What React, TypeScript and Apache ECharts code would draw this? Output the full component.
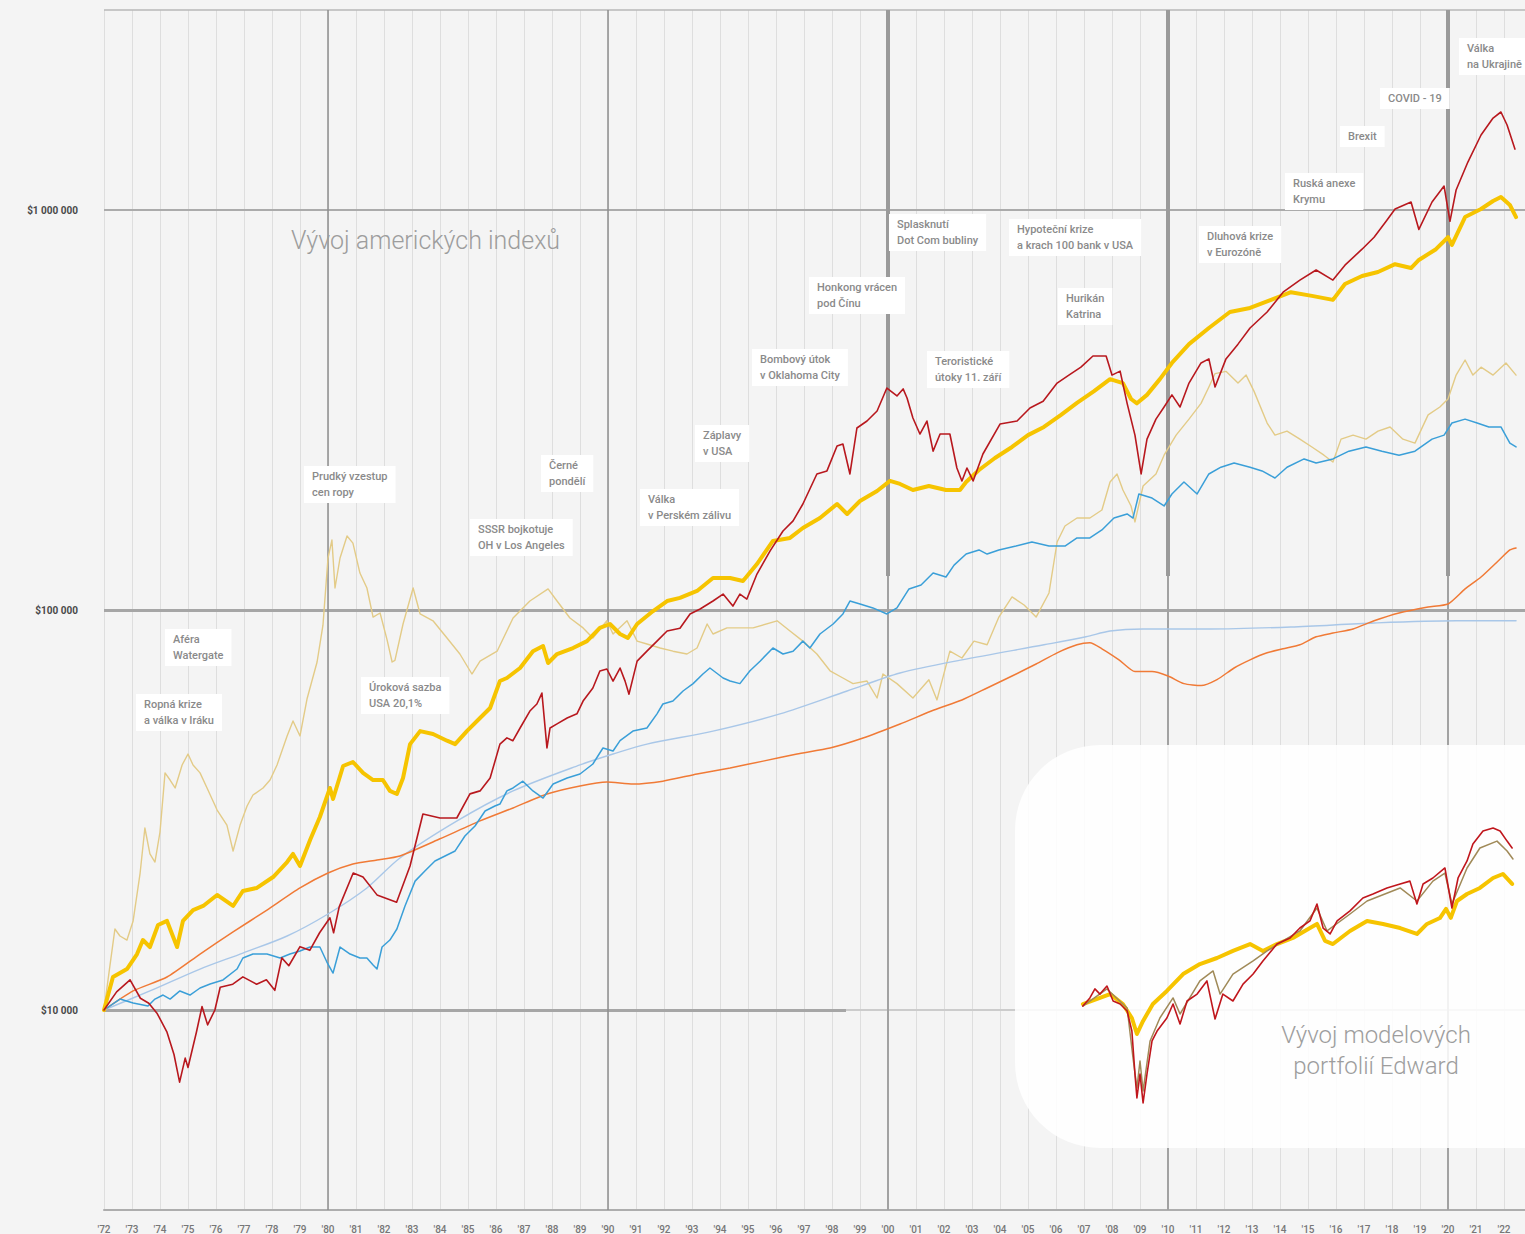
import React, { useEffect, useRef } from "react";
import * as echarts from "echarts";

// ---------- DATA (decimal year, value in USD) ----------
const usStocks: [number, number][] = [
  [1972.0,10000],[1972.45,11100],[1972.93,11900],[1973.3,10700],[1973.6,10400],[1973.9,9800],[1974.25,8800],[1974.5,7740],[1974.7,6600],[1974.9,7580],[1975.0,7180],[1975.3,8800],[1975.5,10200],[1975.7,9180],[1975.96,10000],[1976.15,11400],[1976.6,11600],[1976.96,12100],[1977.45,11600],[1977.8,11900],[1978.1,11200],[1978.35,13500],[1978.6,12900],[1979.0,14400],[1979.35,14100],[1979.7,15600],[1980.07,17000],[1980.2,15600],[1980.4,18100],[1980.9,22000],[1981.25,21500],[1981.75,19400],[1982.45,18600],[1982.93,22900],[1983.39,30900],[1984.0,30200],[1984.6,30200],[1985.07,34700],[1985.43,35300],[1985.79,38000],[1986.14,46200],[1986.39,47900],[1986.6,47100],[1986.86,50700],[1987.21,55900],[1987.46,58200],[1987.64,62000],[1987.82,45200],[1987.93,50700],[1988.18,51900],[1988.54,53700],[1988.89,55000],[1989.11,59200],[1989.46,63800],[1989.71,70400],[1989.96,71200],[1990.18,66400],[1990.43,71600],[1990.61,66400],[1990.75,61600],[1991.04,74500],[1991.39,78900],[1991.75,83600],[1992.11,88600],[1992.57,90000],[1992.93,97700],[1993.29,100600],[1993.75,105300],[1994.11,109600],[1994.46,102300],[1994.71,109600],[1994.96,106500],[1995.32,123000],[1995.79,140500],[1996.25,157600],[1996.61,167000],[1996.96,184100],[1997.46,218800],[1997.82,222700],[1998.18,257000],[1998.39,260000],[1998.64,218800],[1998.89,285100],[1999.25,296800],[1999.61,314500],[1999.96,358900],[2000.32,342800],[2000.54,357000],[2000.68,338800],[2000.89,302000],[2001.14,275400],[2001.39,296800],[2001.61,249500],[2001.86,275400],[2002.21,275400],[2002.46,226500],[2002.64,210200],[2002.82,226500],[2003.04,210200],[2003.39,245500],[2004.0,291700],[2004.61,296800],[2005.07,320000],[2005.54,332400],[2006.04,369300],[2006.46,386600],[2006.89,404600],[2007.32,431500],[2007.79,431500],[2008.0,386600],[2008.29,395600],[2008.54,328600],[2008.82,273600],[2009.04,218800],[2009.25,267400],[2009.57,300000],[2009.86,321800],[2010.14,345000],[2010.43,321800],[2010.75,369300],[2011.18,414600],[2011.46,424400],[2011.68,361000],[2012.07,424400],[2012.5,462000],[2012.93,507000],[2013.54,556000],[2014.11,623000],[2014.71,668000],[2015.29,708000],[2015.89,668000],[2016.32,728000],[2016.93,798000],[2017.36,855000],[2017.79,937000],[2018.11,1006000],[2018.68,1047000],[2018.96,894000],[2019.43,1047000],[2019.86,1148000],[2020.07,937000],[2020.29,1122000],[2020.71,1318000],[2021.18,1540000],[2021.61,1698000],[2021.89,1758000],[2022.11,1631000],[2022.39,1420000],
];

const usMixed: [number, number][] = [
  [1972.0,10000],[1972.32,12090],[1972.82,12660],[1973.18,13800],[1973.39,14960],[1973.64,14370],[1973.93,16310],[1974.25,16700],[1974.61,14370],[1974.82,16700],[1975.18,17780],[1975.54,18200],[1976.04,19390],[1976.61,18200],[1976.96,19840],[1977.46,20190],[1978.04,21500],[1978.54,23440],[1978.75,24550],[1979.0,22910],[1979.36,26600],[1979.71,30370],[1980.07,35900],[1980.18,33690],[1980.54,40740],[1980.89,41690],[1981.25,39150],[1981.61,37580],[1981.96,37580],[1982.21,35300],[1982.46,34670],[1982.68,38020],[1982.93,46200],[1983.29,49800],[1983.75,48980],[1984.25,47130],[1984.54,46200],[1984.96,49800],[1985.43,53700],[1985.79,56880],[1986.14,66440],[1986.39,67610],[1986.86,71610],[1987.32,78890],[1987.68,81280],[1987.86,73700],[1988.18,77620],[1988.75,80350],[1989.25,83600],[1989.71,90200],[1990.07,92260],[1990.43,87100],[1990.71,85110],[1991.04,92260],[1991.61,99400],[1992.11,105300],[1992.57,107200],[1993.18,111600],[1993.75,120200],[1994.36,120200],[1994.82,118200],[1995.32,130300],[1995.89,148800],[1996.5,151400],[1996.96,160300],[1997.57,169800],[1998.18,184100],[1998.54,173800],[1999.0,187300],[1999.61,198400],[2000.07,210200],[2000.43,206600],[2000.89,199500],[2001.46,204200],[2002.07,199500],[2002.57,199500],[2002.79,208900],[2003.25,223900],[2003.82,239900],[2004.43,255600],[2005.0,273600],[2005.57,286800],[2006.18,307400],[2006.75,329400],[2007.36,352500],[2007.93,377700],[2008.39,369300],[2008.68,336900],[2008.89,328600],[2009.25,345000],[2009.71,377700],[2010.14,414600],[2010.75,462000],[2011.46,507000],[2012.21,556000],[2012.93,569000],[2013.68,596000],[2014.39,623000],[2015.14,610000],[2015.89,596000],[2016.32,653000],[2016.93,684000],[2017.5,700000],[2018.11,732000],[2018.68,716000],[2018.96,750000],[2019.57,798000],[2020.0,855000],[2020.14,818000],[2020.61,960000],[2021.18,1006000],[2021.61,1053000],[2021.89,1078000],[2022.21,1029000],[2022.43,960000],
];

const gold: [number, number][] = [
  [1972.0,10000],[1972.21,12880],[1972.39,15940],[1972.57,15310],[1972.82,14960],[1973.04,16700],[1973.29,22000],[1973.46,28510],[1973.64,24550],[1973.82,23440],[1974.0,27860],[1974.18,39150],[1974.36,37580],[1974.54,35900],[1974.79,40980],[1975.0,43650],[1975.18,40980],[1975.43,39150],[1975.68,35900],[1976.04,31620],[1976.39,28990],[1976.61,24980],[1976.86,28990],[1977.11,32360],[1977.32,34470],[1977.68,35900],[1977.93,37580],[1978.18,40980],[1978.54,48420],[1978.75,52790],[1979.0,48420],[1979.25,59900],[1979.61,74130],[1979.82,91620],[1980.0,134900],[1980.14,149600],[1980.25,113500],[1980.43,134900],[1980.68,153100],[1980.89,147000],[1981.14,123700],[1981.39,113500],[1981.61,96000],[1981.86,98300],[1982.11,84200],[1982.29,74130],[1982.39,74800],[1982.68,92260],[1983.04,113500],[1983.29,97740],[1983.75,93970],[1984.25,85110],[1984.71,77620],[1985.14,69180],[1985.43,74470],[1986.04,78890],[1986.61,95500],[1987.21,105300],[1987.86,112900],[1988.18,105300],[1988.64,95500],[1989.11,90200],[1989.46,85110],[1989.96,93970],[1990.18,87100],[1990.68,93970],[1991.04,83600],[1991.39,82220],[1991.86,80350],[1992.32,78890],[1992.82,77620],[1993.18,80350],[1993.54,92260],[1993.75,87100],[1994.25,90200],[1994.71,90200],[1995.18,90200],[1996.04,93970],[1996.5,88610],[1996.96,83600],[1997.46,77620],[1997.93,70470],[1998.39,67610],[1998.75,65460],[1999.25,66440],[1999.61,60260],[1999.82,69180],[2000.32,65460],[2000.89,60260],[2001.46,66900],[2001.75,59600],[2002.21,78890],[2002.64,75860],[2003.07,83600],[2003.54,81850],[2003.96,96000],[2004.43,107800],[2004.86,102900],[2005.29,96000],[2005.75,110300],[2006.04,147900],[2006.32,162200],[2006.75,169800],[2007.21,169800],[2007.64,177800],[2007.93,208900],[2008.18,218800],[2008.39,199500],[2008.68,182000],[2008.82,166000],[2009.11,204200],[2009.57,218800],[2009.86,243800],[2010.29,273600],[2010.75,300000],[2011.18,328600],[2011.46,361000],[2011.68,390000],[2012.07,395000],[2012.5,369300],[2012.79,386600],[2013.07,352500],[2013.54,293400],[2013.82,273600],[2014.25,280000],[2014.71,267400],[2015.14,255600],[2015.57,243800],[2015.89,234400],[2016.18,267400],[2016.61,273600],[2017.07,267400],[2017.5,280000],[2017.93,286800],[2018.39,267400],[2018.82,261300],[2019.29,307400],[2019.71,321800],[2020.0,336900],[2020.29,386600],[2020.61,421700],[2020.89,386600],[2021.18,404600],[2021.61,386600],[2022.07,414600],[2022.43,386600],
];

const worldStocks: [number, number][] = [
  [1972.0,10000],[1972.57,10650],[1973.04,10410],[1973.57,10230],[1973.82,10650],[1974.11,10900],[1974.36,10650],[1974.71,11160],[1975.07,10900],[1975.43,11350],[1975.79,11610],[1976.25,11890],[1976.75,12660],[1976.96,13490],[1977.32,13800],[1977.82,13800],[1978.29,13490],[1978.64,13800],[1979.0,14050],[1979.36,14370],[1979.71,14370],[1979.96,13180],[1980.18,12370],[1980.43,14370],[1980.79,13800],[1981.14,13490],[1981.39,13490],[1981.61,12960],[1981.75,12660],[1981.93,14370],[1982.21,14960],[1982.46,15940],[1982.75,18200],[1983.11,21000],[1983.46,22260],[1983.82,23580],[1984.18,24270],[1984.54,24980],[1984.89,27230],[1985.25,28840],[1985.61,31440],[1985.96,32360],[1986.14,32730],[1986.39,35290],[1986.61,35900],[1986.96,37330],[1987.32,35290],[1987.68,33880],[1988.04,36730],[1988.54,38020],[1989.0,38900],[1989.46,41210],[1989.82,45190],[1990.18,44420],[1990.43,47130],[1990.89,49810],[1991.39,50710],[1991.75,55000],[1991.96,58210],[1992.32,59230],[1992.68,62730],[1993.04,65460],[1993.39,69180],[1993.64,71610],[1994.11,67610],[1994.36,66440],[1994.71,65460],[1995.07,70470],[1995.43,74470],[1995.89,80350],[1996.25,77620],[1996.61,78890],[1996.96,83600],[1997.21,80350],[1997.57,87100],[1998.04,92260],[1998.39,97740],[1998.64,105300],[1999.0,103500],[1999.46,101200],[1999.96,97740],[2000.32,101200],[2000.75,112900],[2001.18,115500],[2001.61,123700],[2002.07,120900],[2002.36,129500],[2002.79,138000],[2003.25,141300],[2003.54,138000],[2003.96,141300],[2004.57,144500],[2005.14,147900],[2005.75,144500],[2006.32,144500],[2006.75,151400],[2007.21,151400],[2007.64,158500],[2008.07,169800],[2008.54,173800],[2008.75,169800],[2008.96,195000],[2009.43,190500],[2009.86,182000],[2010.14,195000],[2010.57,208900],[2011.04,195000],[2011.46,218800],[2011.89,227500],[2012.36,233000],[2012.93,227500],[2013.36,222700],[2013.82,213800],[2014.25,227500],[2014.86,238600],[2015.29,233000],[2015.89,238600],[2016.46,249500],[2017.07,255600],[2017.64,249500],[2018.25,243800],[2018.82,249500],[2019.43,267400],[2019.86,273600],[2020.14,293400],[2020.61,300000],[2021.04,293400],[2021.46,286800],[2021.89,286800],[2022.21,261300],[2022.43,255600],
];

const treasuryBills: [number, number][] = [
  [1972.0,10000],[1973.64,11160],[1975.43,12660],[1976.96,13880],[1978.54,15310],[1980.0,17380],[1981.39,20190],[1982.57,23990],[1984.61,29700],[1986.61,35290],[1989.0,41000],[1990.18,43650],[1991.39,46210],[1993.75,49810],[1996.14,55000],[1998.54,62730],[2000.43,69580],[2002.64,75060],[2005.57,81850],[2007.07,85700],[2007.93,88610],[2009.11,89650],[2011.46,89650],[2014.39,90680],[2017.36,92790],[2020.29,93970],[2022.43,93970],
];

const usBonds: [number, number][] = [
  [1972.0,10000],[1973.04,11160],[1974.25,12090],[1975.43,13800],[1976.61,15670],[1977.82,17780],[1979.0,20190],[1980.0,22000],[1980.89,23170],[1981.75,23710],[1982.57,24270],[1984.0,26790],[1985.43,29700],[1986.61,32000],[1987.82,34670],[1989.0,36310],[1989.96,37150],[1990.89,36730],[1991.96,37330],[1993.18,38900],[1994.36,40270],[1995.54,41900],[1996.75,43650],[1997.93,45190],[1999.11,47860],[2000.43,51880],[2001.64,56230],[2002.64,59570],[2003.54,63830],[2004.43,68390],[2005.29,73280],[2006.04,78160],[2006.75,81850],[2007.21,82790],[2007.64,79980],[2008.25,75060],[2008.82,70150],[2009.43,70150],[2010.0,68390],[2010.57,65460],[2011.18,64730],[2011.75,66990],[2012.36,71610],[2012.93,75060],[2013.54,78160],[2014.11,79980],[2014.71,81850],[2015.29,85700],[2015.89,87580],[2016.61,89650],[2017.36,93970],[2018.25,98290],[2019.29,101700],[2020.0,103500],[2020.61,112900],[2021.18,120900],[2021.79,132600],[2022.21,141300],[2022.43,142900],
];

const edwardDynamic: [number, number][] = [
  [2006.96,10230],[2007.21,10720],[2007.39,11290],[2007.57,10960],[2007.82,11480],[2008.04,10530],[2008.29,10350],[2008.54,9940],[2008.71,8860],[2008.82,6918],[2008.89,6026],[2009.0,6918],[2009.11,5860],[2009.25,6918],[2009.43,8367],[2009.61,8860],[2009.96,9550],[2010.18,10350],[2010.43,9226],[2010.68,10530],[2011.04,10960],[2011.39,11820],[2011.68,9495],[2011.96,10960],[2012.32,10530],[2012.68,11610],[2013.04,12300],[2013.39,13260],[2013.89,14620],[2014.36,15140],[2014.71,16030],[2015.07,16700],[2015.32,18410],[2015.54,16030],[2015.79,15490],[2016.04,16700],[2016.5,17690],[2016.96,19050],[2017.32,19500],[2017.82,20190],[2018.29,20660],[2018.64,21000],[2018.89,18410],[2019.11,20660],[2019.46,21380],[2019.89,22650],[2020.14,17990],[2020.36,21380],[2020.68,23580],[2020.89,26000],[2021.25,28020],[2021.61,28510],[2021.86,28020],[2022.11,26440],[2022.29,25410],
];

const edwardBalanced: [number, number][] = [
  [2006.96,10230],[2007.82,11290],[2008.54,10120],[2008.75,7586],[2008.89,6383],[2009.0,7454],[2009.11,6273],[2009.36,8367],[2009.71,9550],[2010.18,10720],[2010.43,9772],[2011.14,11820],[2011.61,12520],[2011.86,10960],[2012.32,12300],[2013.04,13260],[2013.54,14050],[2014.11,14880],[2014.71,15760],[2015.32,17990],[2015.68,15760],[2016.5,17380],[2017.11,18730],[2018.29,20190],[2018.89,18730],[2019.46,21000],[2019.89,22000],[2020.14,18410],[2020.68,22650],[2021.14,25410],[2021.75,26440],[2022.11,24980],[2022.32,23860],
];

const edwardConservative: [number, number][] = [
  [2006.96,10350],[2007.57,10720],[2007.93,10960],[2008.39,10350],[2008.71,9550],[2008.89,8710],[2009.11,9388],[2009.46,10350],[2009.96,11160],[2010.54,12300],[2011.14,13030],[2011.75,13490],[2012.32,14050],[2012.93,14620],[2013.39,14050],[2013.89,14620],[2014.46,15140],[2015.07,16030],[2015.32,16410],[2015.61,14880],[2015.89,14620],[2016.5,15760],[2017.11,16700],[2017.68,16410],[2018.29,16030],[2018.89,15490],[2019.25,16410],[2019.71,16980],[2019.93,17900],[2020.1,17000],[2020.32,18730],[2020.68,19500],[2021.14,20190],[2021.61,21380],[2021.96,21880],[2022.29,20660],
];

const dollarLevels = [10000, 100000, 1000000];
const decadeYears = [1980, 1990, 2000, 2010, 2020];

const eventLabels = [
  "Aféra\nWatergate",
  "Ropná krize\na válka v Iráku",
  "Prudký vzestup\ncen ropy",
  "Úroková sazba\nUSA 20,1%",
  "SSSR bojkotuje\nOH v Los Angeles",
  "Černé\npondělí",
  "Válka\nv Perském zálivu",
  "Záplavy\nv USA",
  "Bombový útok\nv Oklahoma City",
  "Honkong vrácen\npod Čínu",
  "Teroristické\nútoky 11. září",
  "Splasknutí\nDot Com bubliny",
  "Hypoteční krize\na krach 100 bank v USA",
  "Hurikán\nKatrina",
  "Dluhová krize\nv Eurozóně",
  "Ruská anexe\nKrymu",
  "Brexit",
  "COVID - 19",
  "Válka\nna Ukrajině",
];
// box top-left positions (layout, px)
const eventBoxPos: [number, number][] = [
  [165, 629],[136, 694],[304, 466],[361, 677],[470, 519],[541, 455],[640, 489],[695, 425],[752, 349],[809, 277],[927, 351],[889, 214],[1009, 219],[1058, 288],[1199, 226],[1285, 173],[1340, 126],[1380, 88],[1459, 38],
];

const mainTitle = "Vývoj amerických indexů";
const insetTitle = "Vývoj modelových\nportfolií Edward";

// ---------- CHART ----------
const Y_MIN = 3162.2776601683795;
const Y_MAX = 3162277.6601683795;

function lineSeries(name: string, data: [number, number][], color: string, width: number, z: number, smooth: number | boolean = false) {
  return {
    type: "line",
    name,
    data,
    showSymbol: false,
    symbol: "none",
    smooth,
    z,
    silent: true,
    lineStyle: { color, width, cap: "round", join: "round" },
    itemStyle: { color },
  };
}

function fmtDollar(v: number) {
  return "$" + String(Math.round(v)).replace(/\B(?=(\d{3})+(?!\d))/g, " ");
}

function buildOption() {
  const solid = (color: string, width: number) => ({ color, width, type: "solid" });
  const gridLines: any[] = [
    { yAxis: Y_MAX, lineStyle: solid("#b8b8b8", 1.5) },
    { yAxis: dollarLevels[2], lineStyle: solid("#ababab", 2) },
    { yAxis: dollarLevels[1], lineStyle: solid("#a6a6a6", 3) },
    [
      { coord: [1972, dollarLevels[0]], lineStyle: solid("#a6a6a6", 3) },
      { coord: [1998.5, dollarLevels[0]], lineStyle: solid("#a6a6a6", 3) },
    ],
    [
      { coord: [1998.5, dollarLevels[0]], lineStyle: solid("#cccccc", 2) },
      { coord: [2023, dollarLevels[0]], lineStyle: solid("#cccccc", 2) },
    ],
  ];
  decadeYears.forEach((yr, i) => {
    gridLines.push({ xAxis: yr, lineStyle: solid(i < 2 ? "#8e8e8e" : "#a2a2a2", i < 2 ? 1.5 : 2) });
    if (i >= 2) {
      gridLines.push([
        { coord: [yr, Y_MAX], lineStyle: solid("#9a9a9a", 4) },
        { coord: [yr, 121600], lineStyle: solid("#9a9a9a", 4) },
      ]);
    }
  });

  const graphics: any[] = [
    {
      type: "rect",
      z: 2,
      silent: true,
      shape: { x: 1015, y: 745, width: 600, height: 403, r: 85 },
      style: { fill: "rgba(255,255,255,0.86)" },
    },
    {
      type: "text",
      z: 2,
      x: 291,
      y: 240,
      silent: true,
      style: { text: mainTitle, font: "300 25px Roboto", fill: "#9d9d9d", align: "left", verticalAlign: "middle" },
    },
    {
      type: "text",
      z: 7,
      x: 1376,
      y: 1050,
      silent: true,
      style: { text: insetTitle, font: "300 24px Roboto", fill: "#9d9d9d", align: "center", verticalAlign: "middle", lineHeight: 31 },
    },
  ];
  eventLabels.forEach((t, i) => {
    graphics.push({
      type: "text",
      z: 2.5,
      x: eventBoxPos[i][0],
      y: eventBoxPos[i][1],
      silent: true,
      style: {
        text: t,
        font: "500 11px Roboto",
        fill: "#8a8a8a",
        backgroundColor: "#ffffff",
        padding: [2, 8, 3, 8],
        lineHeight: 16,
        align: "left",
        verticalAlign: "top",
      },
    });
  });

  return {
    animation: false,
    backgroundColor: "#f4f4f4",
    grid: { left: 104, top: 10, width: 1428, height: 1200, containLabel: false },
    xAxis: {
      type: "value",
      min: 1972,
      max: 2023,
      interval: 1,
      axisLine: { show: true, lineStyle: { color: "#adadad", width: 2 } },
      axisTick: { show: false },
      splitLine: { show: true, lineStyle: { color: "#dedede", width: 1 } },
      axisLabel: {
        color: "#777",
        fontSize: 10,
        fontFamily: "Roboto",
        fontWeight: 500,
        margin: 14,
        showMaxLabel: false,
        formatter: (v: number) => "'" + String(Math.round(v)).slice(2),
      },
    },
    yAxis: {
      type: "log",
      logBase: 10,
      min: Y_MIN,
      max: Y_MAX,
      axisLine: { show: false },
      axisTick: { show: false },
      splitLine: { show: false },
      axisLabel: {
        color: "#4a4a4a",
        fontSize: 10,
        fontWeight: "bold",
        fontFamily: "Roboto",
        margin: 26,
        showMinLabel: false,
        showMaxLabel: false,
        formatter: (v: number) => {
          const l = Math.log10(v);
          if (Math.abs(l - Math.round(l)) > 1e-6) return "";
          return fmtDollar(v);
        },
      },
    },
    graphic: { elements: graphics },
    series: [
      {
        type: "line",
        name: "grid",
        data: [],
        z: 1,
        silent: true,
        symbol: "none",
        markLine: {
          z: 1,
          silent: true,
          symbol: ["none", "none"],
          animation: false,
          label: { show: false },
          emphasis: { disabled: true },
          data: gridLines,
        },
      },
      lineSeries("Zlato", gold, "#e3cb87", 1.4, 3),
      lineSeries("Pokladniční poukázky", treasuryBills, "#a9c7e8", 1.4, 3, 0.3),
      lineSeries("Dluhopisy", usBonds, "#f07a36", 1.5, 3, 0.2),
      lineSeries("Světové akcie", worldStocks, "#3a9fd8", 1.5, 3),
      lineSeries("Smíšené portfolio", usMixed, "#f6c400", 4, 3),
      lineSeries("Americké akcie", usStocks, "#b8181e", 1.6, 3),
      lineSeries("Edward konzervativní", edwardConservative, "#f6c400", 4, 6),
      lineSeries("Edward vyvážené", edwardBalanced, "#a08a58", 1.5, 6),
      lineSeries("Edward dynamické", edwardDynamic, "#c0161c", 1.6, 6),
    ],
  };
}

export default function App() {
  const ref = useRef<HTMLDivElement>(null);
  useEffect(() => {
    document.body.style.margin = "0";
    const chart = echarts.init(ref.current as HTMLDivElement, null, { renderer: "svg" });
    chart.setOption(buildOption() as any);
    return () => chart.dispose();
  }, []);
  return (
    <div style={{ width: 1525, height: 1234, overflow: "hidden", position: "relative", background: "#f4f4f4" }}>
      <div ref={ref} style={{ width: 1545, height: 1250 }} />
    </div>
  );
}
